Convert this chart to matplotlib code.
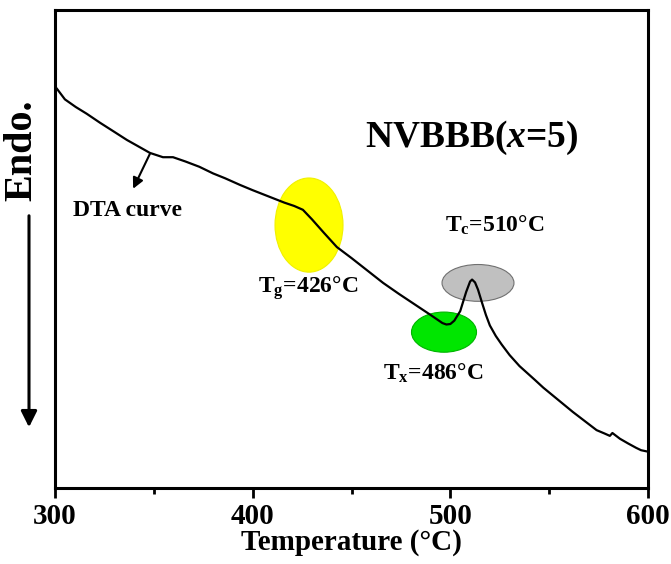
import matplotlib.pyplot as plt
from matplotlib.patches import Ellipse, FancyArrowPatch

plt.rcParams['font.family'] = ['Liberation Serif', 'DejaVu Serif']
plt.rcParams['font.weight'] = 'bold'
plt.rcParams['mathtext.fontset'] = 'custom'
plt.rcParams['mathtext.rm'] = 'Liberation Serif:bold'
plt.rcParams['mathtext.it'] = 'Liberation Serif:italic:bold'
plt.rcParams['mathtext.bf'] = 'Liberation Serif:bold'

# DTA curve (arbitrary units)
temperature = [301, 305, 310.5, 316, 322.8, 330, 336.4, 342, 348, 354.6, 359.7,
               366, 373, 380, 386, 393.6, 400, 408, 416, 421, 425.4, 430, 436,
               442.6, 450, 458, 466, 474, 482, 490, 496, 498, 500, 502, 505,
               508, 510, 511, 512.5, 514, 516, 518, 520, 523, 526, 530, 535,
               542.8, 547, 552, 557, 562, 568, 574, 578, 580.7, 582,
               585.8, 590, 594, 596.5, 598.8, 600]
signal = [83.5, 81.3, 79.7, 78.3, 76.4, 74.5, 72.8, 71.5, 70.1, 69.2, 69.2,
          68.3, 67.2, 65.8, 64.8, 63.4, 62.3, 61.0, 59.7, 59.0, 58.2, 56.2, 53.4,
          50.4, 48.1, 45.5, 42.9, 40.6, 38.4, 36.2, 34.5, 34.2, 34.3, 35.0, 37.0,
          41.0, 43.2, 43.6, 43.0, 41.5, 38.8, 36.2, 34.0, 31.8, 30.0, 27.8, 25.5,
          22.6, 21.0, 19.3, 17.6, 15.9, 14.0, 12.1, 11.4, 10.9, 11.5,
          10.3, 9.3, 8.4, 7.9, 7.7, 7.6]

# marked regions: (centre T, centre signal, width, height, colour, edge)
regions = [
    (428.5, 55.0, 34.4, 19.7, '#ffff00', '#f0f000'),
    (496.8, 32.6, 32.9, 8.4, '#00e600', '#00b400'),
    (514.0, 42.9, 36.4, 7.7, '#c0c0c0', '#707070'),
]

fig = plt.figure(figsize=(6.71, 5.64), dpi=100)
ax = fig.add_axes([0.082, 0.1348, 0.8837, 0.8475])

for cx, cy, w, h, fc, ec in regions:
    ax.add_patch(Ellipse((cx, cy), w, h, facecolor=fc, edgecolor=ec, lw=0.8, zorder=1))

ax.plot(temperature, signal, color='black', lw=1.6, zorder=3)

ax.set_xlim(300, 600)
ax.set_ylim(0, 100)
ax.set_xticks([300, 400, 500, 600])
ax.set_xticks([350, 450, 550], minor=True)
ax.set_yticks([])
ax.tick_params(axis='x', which='major', direction='out', length=7, width=2,
               labelsize=21, pad=4)
ax.tick_params(axis='x', which='minor', direction='out', length=4, width=2)
for s in ax.spines.values():
    s.set_linewidth(2.2)
ax.set_xlabel('Temperature (°C)', fontsize=21, fontweight='bold', labelpad=-1)

ax.text(511, 73.2, 'NVBBB($\\mathit{x}$=5)', fontsize=27, ha='center', va='center')
ax.text(309, 58, 'DTA curve', fontsize=17, ha='left', va='center')
ax.annotate('', xy=(339.5, 62.6), xytext=(348, 69.9),
            arrowprops=dict(arrowstyle='-|>', color='black', lw=1.5,
                            mutation_scale=16, shrinkA=0, shrinkB=0))
ax.text(402.7, 41.8, 'T$_\\mathregular{g}$=426°C', fontsize=17, ha='left', va='center')
ax.text(497.3, 55.0, 'T$_\\mathregular{c}$=510°C', fontsize=17, ha='left', va='center')
ax.text(466, 24.0, 'T$_\\mathregular{x}$=486°C', fontsize=17, ha='left', va='center')

# "Endo." with downward arrow on the left
fig.text(22 / 671, 1 - 150 / 564, 'Endo.', fontsize=29, rotation=90,
         ha='center', va='center')
fig.add_artist(FancyArrowPatch(
    (29 / 671, 1 - 213 / 564), (29 / 671, 1 - 430 / 564),
    transform=fig.transFigure, arrowstyle='-|>', mutation_scale=24,
    lw=2.2, color='black'))

fig.savefig('out.png', dpi=100)
